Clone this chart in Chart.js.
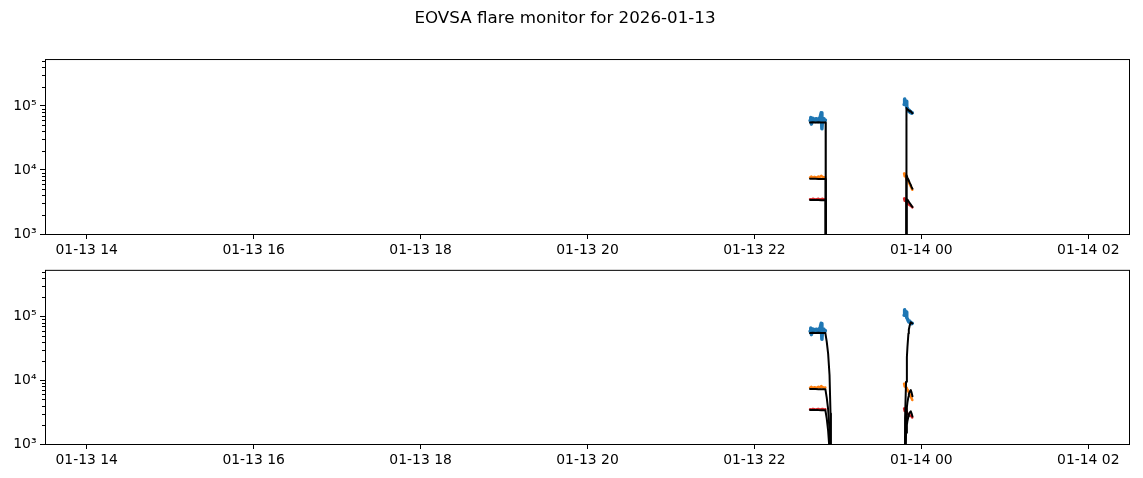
<!DOCTYPE html>
<html>
<head>
<meta charset="utf-8">
<script src="https://cdn.jsdelivr.net/npm/chart.js@4.4.1/dist/chart.umd.min.js"></script>
<style>
  html, body { margin: 0; padding: 0; background: #fff; }
  #wrap { position: relative; width: 1143px; height: 478px; overflow: hidden; }
  canvas { position: absolute; left: 0; }
  #top { top: 0; }
  #bottom { top: 258px; }
</style>
</head>
<body>
<div id="wrap">
  <canvas id="top" width="1143" height="258"></canvas>
  <canvas id="bottom" width="1143" height="210"></canvas>
</div>
<script>
const titleText = "EOVSA flare monitor for 2026-01-13";

// x values are minutes after 2026-01-13 00:00
const xMin = 810;
const xMax = 1590;
const xTickValues = [840, 960, 1080, 1200, 1320, 1440, 1560];
const xTickLabels = ["01-13 14", "01-13 16", "01-13 18", "01-13 20", "01-13 22", "01-14 00", "01-14 02"];

const yMin = 1000;
const yMax = 540000;
const yTickValues = [1000, 10000, 100000];
const yTickLabels = ["10³", "10⁴", "10⁵"];
const yMinorTicks = [
  2000, 3000, 4000, 5000, 6000, 7000, 8000, 9000,
  20000, 30000, 40000, 50000, 60000, 70000, 80000, 90000,
  200000, 300000, 400000, 500000,
];

// observed channels (same in both panels)
const blueTimes1 = [1360, 1360.5, 1361, 1361.5, 1362, 1362.5, 1363, 1363.5, 1364, 1364.5, 1365, 1365.5,
  1366, 1366.5, 1367, 1367.5, 1368, 1368.5, 1369, 1369.5, 1370, 1370.5, 1371];
const blueValues1 = [59000, 66000, 52000, 64000, 57000, 63000, 58000, 62000, 57000, 63000, 58000, 61000,
  57000, 64000, 60000, 70000, 78000, 44000, 62000, 58000, 63000, 57000, 60000];
const blueTimes2 = [1427.6, 1428, 1428.5, 1429, 1429.5, 1430, 1430.5, 1431, 1431.5, 1432, 1432.5, 1433, 1433.5];
const blueValues2 = [105000, 128000, 108000, 118000, 96000, 92000, 86000, 82000, 85000, 79000, 81000, 77000, 78000];

const lowTimes1 = [1360, 1361, 1362, 1363, 1364, 1365, 1366, 1367, 1368, 1369, 1370, 1371];
const orangeValues1 = [7600, 7900, 7500, 7800, 7700, 7600, 7900, 7700, 8100, 7800, 7600, 7700];
const redValues1 = [3500, 3450, 3550, 3500, 3450, 3500, 3550, 3450, 3500, 3550, 3450, 3500];
const lowTimes2 = [1427.6, 1428, 1428.5, 1429, 1429.5, 1430, 1431, 1432, 1433, 1433.5];
const orangeValues2 = [8800, 8000, 8600, 7600, 7000, 7200, 6400, 5800, 5200, 4900];
const redValues2 = [3600, 3300, 3500, 3200, 3100, 3000, 2900, 2800, 2700, 2600];

// black model curves, upper panel
const fitTopTimes = [1360, 1362, 1364, 1366, 1368, 1370, 1371.2, 1371.3, 1429.2, 1429.3, 1430, 1430.8,
  1431.5, 1432.3, 1433, 1433.6];
const fitTopBlue = [55000, 55500, 55000, 55500, 55000, 55000, 55000, 1, 1, 93000, 88000, 86000, 82000, 83000, 79000, 77000];
const fitTopOrange = [7300, 7300, 7300, 7250, 7250, 7250, 7250, 1, 1, 8300, 7600, 7000, 6400, 5900, 5400, 5100];
const fitTopRed = [3400, 3400, 3400, 3400, 3380, 3380, 3380, 1, 1, 3350, 3450, 3250, 3050, 2900, 2750, 2650];

// black model curves, lower panel
const fitBottomTimes = [1360, 1362, 1364, 1366, 1368, 1370, 1371, 1372, 1373, 1374, 1374.7, 1375,
  1428, 1428.3, 1429, 1429.6, 1430, 1430.7, 1431, 1431.6, 1432.4, 1433, 1433.6];
const fitBottomBlue = [55000, 55500, 55000, 55500, 55000, 55000, 55000, 40000, 26000, 12000, 3000, 1,
  1, 2500, 9500, 23000, 33000, 54000, 62000, 72000, 81000, 80000, 78000];
const fitBottomOrange = [7300, 7300, 7300, 7250, 7250, 7250, 7250, 5300, 3500, 1600, 400, 1,
  1, 500, 2500, 3800, 4500, 5500, 6000, 6600, 7000, 6400, 5600];
const fitBottomRed = [3400, 3400, 3400, 3400, 3380, 3380, 3380, 2500, 1600, 800, 200, 1,
  1, 300, 1500, 2000, 2300, 2700, 2900, 3100, 3250, 3000, 2700];

const colors = { blue: "#1f77b4", orange: "#ff7f0e", red: "#d62728", fit: "#000000" };

Chart.defaults.font.family = "'DejaVu Sans', sans-serif";
Chart.defaults.font.size = 13.9;
Chart.defaults.color = "#000";

function points(times, values) {
  return times.map((t, i) => ({ x: t, y: values[i] }));
}

function line(data, color, width, order) {
  return {
    data,
    borderColor: color,
    borderWidth: width,
    borderJoinStyle: "round",
    borderCapStyle: "round",
    pointRadius: 0,
    tension: 0,
    fill: false,
    clip: 0,
    order,
  };
}

function observed() {
  return [
    line(points(blueTimes1, blueValues1), colors.blue, 3.5, 3),
    line(points(blueTimes2, blueValues2), colors.blue, 3.5, 3),
    line(points(lowTimes1, orangeValues1), colors.orange, 2.5, 2),
    line(points(lowTimes2, orangeValues2), colors.orange, 2.5, 2),
    line(points(lowTimes1, redValues1), colors.red, 2.5, 1),
    line(points(lowTimes2, redValues2), colors.red, 2.5, 1),
  ];
}

function fits(times, blue, orange, red) {
  return [
    line(points(times, blue), colors.fit, 2, 0),
    line(points(times, orange), colors.fit, 2, 0),
    line(points(times, red), colors.fit, 2, 0),
  ];
}

const frameAndMinor = {
  id: "frameAndMinor",
  afterDraw(chart) {
    const { ctx, chartArea: a } = chart;
    const y = chart.scales.y;
    ctx.save();
    ctx.strokeStyle = "#000";
    ctx.lineWidth = 1;
    ctx.beginPath();
    yMinorTicks.forEach((v) => {
      const py = Math.round(y.getPixelForValue(v)) + 0.5;
      ctx.moveTo(a.left - 3, py);
      ctx.lineTo(a.left, py);
    });
    ctx.stroke();
    ctx.strokeRect(a.left + 0.5, a.top + 0.5, a.right - a.left - 1, a.bottom - a.top);
    ctx.restore();
  },
};

function makeChart(id, datasets, withTitle, padTop) {
  return new Chart(document.getElementById(id), {
    type: "line",
    data: { datasets },
    plugins: [frameAndMinor],
    options: {
      responsive: false,
      animation: false,
      events: [],
      layout: { padding: { left: 0, right: 13, top: padTop, bottom: 0 } },
      plugins: {
        legend: { display: false },
        tooltip: { enabled: false },
        title: {
          display: withTitle,
          text: titleText,
          font: { size: 16.7, weight: "normal" },
          padding: { top: 8.4, bottom: 30.6 },
        },
      },
      scales: {
        x: {
          type: "linear",
          min: xMin,
          max: xMax,
          afterBuildTicks: (scale) => {
            scale.ticks = xTickValues.map((v) => ({ value: v }));
          },
          afterFit: (scale) => {
            scale.height = 24;
          },
          ticks: {
            autoSkip: false,
            maxRotation: 0,
            padding: 3,
            callback: (v) => xTickLabels[xTickValues.indexOf(v)],
          },
          grid: { drawOnChartArea: false, tickLength: 5, tickColor: "#000", tickWidth: 1 },
          border: { display: false },
        },
        y: {
          type: "logarithmic",
          min: yMin,
          max: yMax,
          afterBuildTicks: (scale) => {
            scale.ticks = yTickValues.map((v) => ({ value: v, major: true }));
          },
          afterFit: (scale) => {
            scale.width = 45;
          },
          ticks: {
            padding: 3.5,
            callback: (v) => yTickLabels[yTickValues.indexOf(v)],
          },
          grid: { drawOnChartArea: false, tickLength: 5, tickColor: "#000", tickWidth: 1 },
          border: { display: false },
        },
      },
    },
  });
}

makeChart("top", fits(fitTopTimes, fitTopBlue, fitTopOrange, fitTopRed).concat(observed()), true, 0);
makeChart("bottom", fits(fitBottomTimes, fitBottomBlue, fitBottomOrange, fitBottomRed).concat(observed()), false, 11);
</script>
</body>
</html>
